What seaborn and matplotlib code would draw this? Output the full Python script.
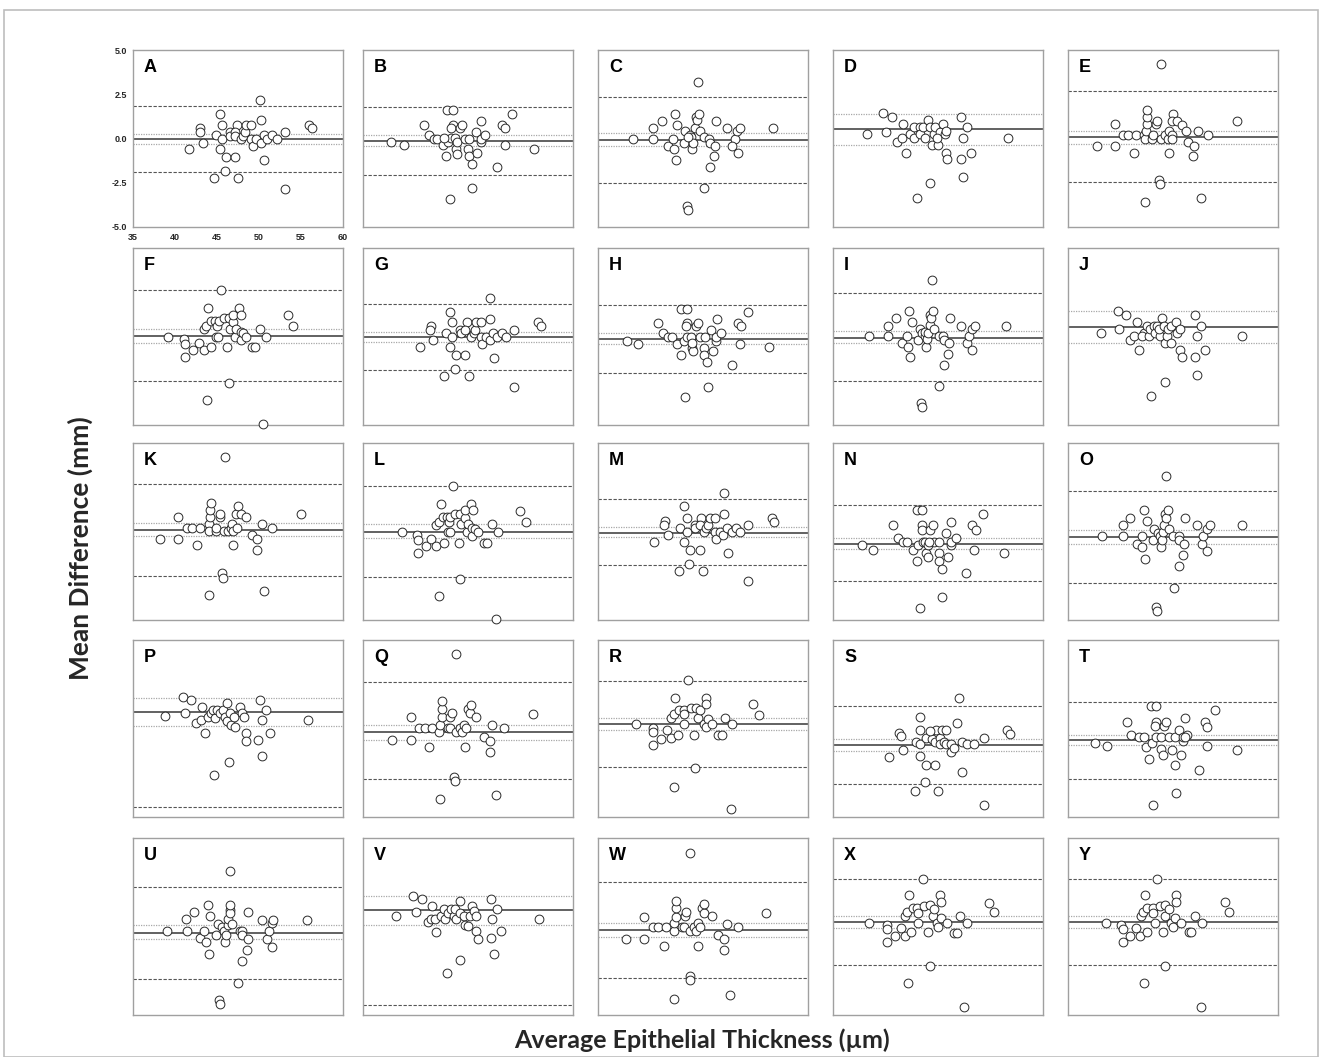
import matplotlib
matplotlib.use("Agg")
import matplotlib.pyplot as plt
from matplotlib.patches import Rectangle
import seaborn as sns
import pandas as pd

# Bland-Altman panels A..Y (x = average, y = difference)
a_pts = [(41.7,-0.61),(43.0,0.61),(43.0,0.38),(43.3,-0.23),(44.9,0.18),(45.3,1.41),(45.3,-0.61),(45.6,0.79),(45.6,-0.01),(46.1,-1.02),(45.9,-1.82),(44.7,-2.25),(46.6,0.38),(46.5,0.14),(47.1,-1.02),(47.4,0.79),(47.2,0.38),(47.1,0.14),(47.5,-2.25),(47.8,-0.01),(48.1,0.14),(48.3,0.38),(48.4,0.79),(49.0,0.79),(49.1,-0.01),(49.3,-0.42),(49.6,-0.01),(50.1,2.20),(50.2,1.02),(50.2,-0.23),(50.6,0.18),(50.6,-1.21),(51.0,-0.01),(51.6,0.18),(52.1,-0.01),(53.1,0.38),(53.1,-2.85),(56.0,0.79),(56.3,0.57)]
b_pts = [(38.3,-0.22),(39.9,-0.39),(42.3,0.77),(42.8,0.18),(43.5,0.0),(43.8,0.0),(44.5,-0.39),(45.0,1.61),(45.7,1.61),(44.9,-1.0),(45.1,-0.22),(45.5,0.02),(45.7,0.77),(45.5,0.57),(45.9,0.02),(46.1,-0.61),(46.2,-0.85),(46.2,-0.22),(46.6,0.57),(46.8,0.77),(47.1,0.0),(47.6,0.0),(47.5,-0.61),(47.6,-1.0),(48.0,-1.44),(48.0,-2.82),(45.3,-3.43),(48.5,0.39),(48.6,-0.81),(49.0,-0.22),(49.1,0.98),(49.0,0.0),(49.5,0.18),(50.9,-1.62),(51.6,0.77),(51.9,0.57),(51.9,-0.39),(52.7,1.38),(55.3,-0.61),(44.6,0.02)]
c_pts = [(46.9,3.19),(39.2,-0.01),(41.6,-0.01),(41.6,0.58),(42.6,0.99),(44.2,1.39),(44.4,0.79),(43.3,-0.43),(44.0,-0.62),(44.3,-1.21),(43.9,-0.01),(45.2,-0.23),(45.3,0.40),(45.9,0.21),(46.1,0.06),(46.2,-0.60),(46.3,-0.23),(46.5,0.58),(46.7,1.24),(46.8,1.02),(47.0,1.39),(47.1,0.40),(47.6,0.06),(48.2,-0.01),(48.3,-0.23),(48.9,-0.42),(49.0,0.99),(48.8,-1.01),(48.3,-1.63),(47.6,-2.81),(45.6,-3.80),(45.7,-4.03),(50.4,0.58),(51.3,-0.01),(51.0,-0.42),(51.6,0.40),(51.9,0.58),(51.7,-0.82),(55.8,0.58),(45.7,0.06)]
d_pts = [(39.0,0.23),(41.0,1.42),(42.0,1.20),(41.3,0.39),(43.3,0.80),(42.6,-0.21),(43.2,0.03),(43.7,-0.80),(44.2,0.23),(44.6,0.63),(44.6,0.03),(45.3,0.63),(45.4,0.23),(45.7,0.63),(46.0,0.03),(46.3,1.04),(46.5,0.63),(46.8,-0.37),(47.0,0.23),(47.2,0.63),(47.5,-0.38),(47.7,0.39),(48.1,0.82),(48.3,0.23),(48.5,0.45),(48.4,-0.80),(48.6,-1.17),(46.5,-2.54),(45.0,-3.35),(50.2,1.20),(50.5,0.03),(50.9,0.63),(50.2,-1.17),(51.4,-0.80),(50.5,-2.17),(55.8,0.03),(47.4,0.05)]
e_pts = [(46.1,4.21),(38.4,-0.42),(40.6,-0.42),(40.6,0.80),(41.5,0.19),(42.1,0.19),(42.8,-0.80),(43.1,0.19),(44.1,0.19),(44.2,-0.01),(44.3,0.40),(44.4,0.80),(44.4,1.21),(44.4,1.61),(45.0,-0.01),(45.1,0.19),(45.5,0.80),(45.6,1.00),(46.1,-0.01),(46.6,0.19),(46.9,-0.01),(47.0,0.40),(47.0,-0.80),(47.4,0.19),(47.4,-0.01),(47.5,1.39),(47.4,1.00),(48.0,1.00),(48.6,0.78),(49.0,0.40),(49.3,-0.21),(50.0,-0.42),(49.9,-0.99),(50.5,0.40),(51.7,0.19),(55.1,1.00),(45.8,-2.37),(45.9,-2.59),(44.2,-3.57),(50.8,-3.38)]
f_pts = [(45.5,2.60),(39.2,0.0),(41.1,-0.15),(41.2,-0.43),(41.2,-1.17),(42.2,-0.77),(42.8,-0.38),(43.4,-0.77),(43.4,0.42),(43.7,0.60),(43.9,1.60),(44.3,0.85),(44.3,-0.59),(44.8,0.85),(45.0,0.60),(44.9,0.0),(45.2,0.85),(45.1,0.0),(45.8,1.02),(46.2,-0.59),(46.4,1.02),(46.5,0.42),(46.9,0.81),(46.9,1.23),(47.2,0.0),(47.3,0.42),(47.6,1.60),(47.9,1.23),(47.8,0.26),(47.8,-0.19),(48.1,0.19),(48.5,0.0),(49.2,-0.59),(49.5,-0.59),(50.1,0.42),(50.8,0.0),(53.4,1.21),(54.1,0.60),(46.4,-2.60),(43.8,-3.60),(50.5,-4.96)]
g_pts = [(50.1,2.19),(41.8,-0.61),(43.1,0.61),(43.0,0.39),(43.3,-0.22),(45.3,1.40),(45.6,0.80),(44.9,0.20),(45.3,-0.61),(45.6,-0.03),(46.1,-1.04),(45.9,-1.81),(44.7,-2.24),(46.6,0.39),(46.7,0.20),(47.1,-1.04),(47.4,0.80),(47.2,0.39),(47.6,-2.24),(47.9,-0.03),(48.2,0.20),(48.3,0.39),(48.4,0.80),(49.1,0.80),(49.1,-0.03),(49.2,-0.42),(49.6,-0.03),(50.1,0.99),(50.1,-0.22),(50.5,0.20),(50.6,-1.23),(51.0,-0.03),(51.5,0.20),(52.0,-0.03),(53.0,0.39),(53.0,-2.84),(55.8,0.80),(56.2,0.57)]
h_pts = [(38.4,-0.23),(39.8,-0.43),(42.2,0.79),(42.7,0.19),(43.3,0.0),(43.8,0.0),(44.4,-0.43),(44.9,1.58),(45.6,1.58),(44.9,-1.04),(45.2,-0.23),(45.6,0.0),(45.6,0.79),(45.5,0.60),(46.1,0.0),(46.2,-0.64),(46.3,-0.83),(46.2,-0.38),(46.7,0.60),(46.9,0.79),(47.1,0.0),(47.7,0.0),(47.6,-0.64),(47.6,-1.04),(48.0,-1.43),(48.1,-2.83),(45.3,-3.43),(48.5,0.38),(48.7,-0.83),(49.0,-0.23),(49.2,0.98),(49.1,0.0),(49.6,0.19),(50.9,-1.62),(51.7,0.79),(52.0,0.57),(51.9,-0.43),(52.8,1.40),(55.3,-0.60)]
i_pts = [(46.8,3.22),(39.3,0.01),(41.5,0.59),(41.6,0.01),(42.5,1.02),(43.2,-0.38),(43.8,0.01),(43.9,-0.57),(44.1,1.42),(44.2,-1.17),(44.4,0.82),(45.1,-0.18),(45.3,0.44),(45.6,0.22),(45.9,0.01),(46.0,0.27),(46.1,-0.57),(46.2,-0.16),(46.3,0.22),(46.5,0.63),(46.6,1.22),(46.7,1.02),(46.9,1.42),(47.0,0.44),(47.6,0.01),(47.6,-2.78),(45.5,-3.78),(45.6,-3.99),(48.1,0.01),(48.2,-0.18),(48.2,-1.59),(48.7,-0.99),(48.8,-0.38),(48.9,1.02),(50.2,0.61),(51.0,-0.38),(51.2,0.01),(51.6,-0.76),(51.6,0.44),(51.9,0.61),(55.6,0.61)]
j_pts = [(38.9,0.22),(40.9,1.42),(41.9,1.22),(41.1,0.41),(43.2,0.82),(42.4,-0.18),(42.9,0.01),(43.5,-0.78),(44.0,0.22),(43.8,0.01),(44.4,0.61),(44.6,0.01),(44.8,0.41),(45.2,0.61),(45.4,0.22),(45.6,0.61),(46.0,0.01),(45.8,0.41),(46.2,1.02),(46.4,0.61),(46.6,-0.38),(46.8,0.01),(46.9,0.41),(47.3,-0.38),(47.3,0.61),(47.9,0.82),(48.0,0.22),(48.3,-0.78),(48.3,0.44),(48.6,-1.17),(46.5,-2.59),(44.9,-3.36),(50.1,1.22),(50.8,0.61),(50.3,0.01),(50.1,-1.17),(51.3,-0.78),(50.4,-2.18),(55.7,0.01)]
k_pts = [(46.0,4.21),(38.2,-0.40),(40.4,-0.40),(40.4,0.80),(41.4,0.21),(42.0,0.21),(42.6,-0.78),(43.0,0.21),(44.0,0.41),(44.0,0.02),(44.2,0.80),(44.2,1.22),(44.3,1.63),(44.9,0.02),(44.9,0.21),(45.3,0.80),(45.4,1.01),(45.8,0.02),(46.3,0.02),(46.7,0.21),(46.8,0.41),(46.9,-0.78),(46.9,0.02),(47.4,0.21),(47.3,1.01),(47.5,1.43),(47.9,1.01),(48.5,0.80),(49.2,-0.19),(49.8,-0.40),(49.8,-1.02),(50.4,0.41),(51.6,0.21),(55.0,1.01),(45.6,-2.37),(45.7,-2.60),(44.0,-3.59),(50.6,-3.38)]
l_pts = [(45.7,2.58),(39.6,-0.02),(41.4,-0.21),(41.5,-0.47),(41.5,-1.23),(42.5,-0.83),(43.1,-0.44),(43.7,-0.83),(43.7,0.36),(44.0,0.55),(44.3,1.57),(44.5,0.80),(44.6,-0.64),(45.0,0.80),(45.2,0.55),(45.1,-0.02),(45.4,0.80),(45.3,-0.02),(46.0,0.97),(46.4,-0.64),(46.6,0.97),(46.7,0.40),(47.1,0.79),(47.1,1.19),(47.4,-0.02),(47.5,0.40),(47.9,1.57),(48.1,1.19),(48.0,0.21),(48.0,-0.25),(48.3,0.13),(48.7,-0.02),(49.4,-0.64),(49.8,-0.64),(50.3,0.40),(51.1,-0.02),(53.7,1.17),(54.4,0.55),(46.6,-2.66),(44.1,-3.66),(50.8,-4.95)]
m_pts = [(50.0,2.19),(41.7,-0.62),(43.0,0.60),(42.9,0.39),(43.3,-0.22),(45.2,1.44),(45.6,0.79),(44.8,0.21),(45.2,-0.62),(45.6,-0.02),(46.0,-1.03),(45.8,-1.82),(44.7,-2.25),(46.5,0.39),(46.6,0.21),(47.1,-1.03),(47.3,0.79),(47.1,0.39),(47.5,-2.25),(47.6,-0.02),(47.9,0.21),(48.1,0.39),(48.3,0.79),(48.9,0.79),(48.9,-0.02),(49.1,-0.41),(49.5,-0.02),(50.0,1.00),(49.9,-0.22),(50.4,0.21),(50.5,-1.22),(50.9,-0.02),(51.4,0.21),(51.9,-0.02),(52.9,0.39),(52.9,-2.81),(55.7,0.79),(56.0,0.55)]
n_pts = [(38.4,-0.79),(39.8,-1.02),(42.2,0.34),(42.7,-0.34),(43.3,-0.57),(43.8,-0.57),(44.5,-1.02),(45.0,1.20),(45.6,1.20),(45.0,-1.68),(45.1,-0.79),(45.7,-0.57),(45.6,0.34),(45.6,0.11),(46.0,-0.57),(46.1,-1.21),(46.3,-1.46),(46.3,-0.79),(46.6,0.11),(46.9,0.34),(47.0,-0.57),(47.6,-0.57),(47.6,-1.21),(47.6,-1.68),(48.0,-2.10),(48.0,-3.69),(45.4,-4.33),(48.5,-0.11),(48.7,-1.46),(49.0,-0.79),(49.1,-0.57),(49.1,0.54),(49.6,-0.34),(50.8,-2.33),(51.6,0.34),(52.0,0.11),(51.8,-1.02),(52.8,0.99),(55.3,-1.21),(46.4,-0.57)]
o_pts = [(46.7,3.12),(39.1,-0.26),(41.5,0.36),(41.6,-0.26),(42.4,0.79),(43.2,-0.68),(43.8,-0.90),(43.8,-0.26),(44.1,1.22),(44.2,-1.54),(44.4,0.58),(45.1,-0.47),(45.2,0.14),(45.7,-0.08),(46.0,-0.26),(46.1,-0.90),(46.2,-0.47),(46.3,-0.04),(46.4,0.36),(46.5,1.00),(46.7,0.79),(46.9,1.22),(47.0,0.14),(47.5,-0.26),(47.6,-3.22),(45.5,-4.25),(45.6,-4.49),(48.2,-0.26),(48.2,-0.47),(48.2,-1.96),(48.7,-1.32),(48.8,-0.68),(48.9,0.79),(50.3,0.36),(51.0,-0.68),(51.1,-0.26),(51.5,-1.11),(51.5,0.14),(51.9,0.36),(55.7,0.36)]
p_pts = [(40.9,1.77),(41.9,1.62),(38.8,0.68),(41.2,0.87),(42.5,0.32),(43.2,1.21),(43.1,0.49),(43.6,-0.25),(43.9,0.66),(44.3,0.85),(44.5,1.06),(44.8,0.57),(45.0,1.06),(45.3,0.85),(45.7,1.06),(45.9,0.66),(46.2,1.42),(46.2,0.43),(46.6,0.85),(46.7,0.19),(47.0,0.66),(47.2,0.07),(47.7,1.23),(48.0,0.85),(48.2,0.66),(48.4,-0.25),(48.5,-0.70),(49.9,-0.64),(50.1,1.60),(50.8,1.04),(50.3,0.49),(51.3,-0.25),(50.3,-1.53),(46.4,-1.91),(44.7,-2.62),(55.8,0.49)]
q_pts = [(46.1,4.21),(38.4,-0.65),(40.7,-0.65),(40.7,0.65),(41.7,0.01),(42.4,0.01),(42.9,-1.06),(43.2,0.01),(44.1,-0.18),(44.2,0.20),(44.4,0.65),(44.4,1.10),(44.4,1.55),(45.1,0.01),(45.3,0.01),(45.4,0.65),(45.6,0.87),(46.1,-0.18),(46.5,0.01),(46.8,-0.18),(47.0,0.20),(47.2,-1.04),(47.3,0.01),(47.5,1.10),(47.7,0.87),(47.9,1.32),(48.4,0.65),(49.4,-0.46),(50.1,-0.68),(50.1,-1.32),(50.4,0.20),(51.8,0.01),(55.2,0.84),(45.8,-2.73),(46.0,-2.95),(44.2,-4.00),(50.8,-3.78)]
r_pts = [(45.7,2.74),(39.5,0.23),(41.5,0.04),(41.6,-0.19),(41.5,-0.91),(42.5,-0.57),(43.2,-0.10),(43.7,-0.53),(43.7,0.62),(44.0,0.83),(44.2,1.72),(44.7,1.02),(44.5,-0.38),(45.2,1.02),(45.2,0.83),(45.2,0.23),(46.1,1.15),(46.4,-0.38),(46.7,1.15),(46.9,0.62),(47.2,1.02),(47.8,1.72),(47.6,0.23),(47.9,1.40),(48.1,0.55),(47.8,0.09),(48.6,0.23),(49.3,-0.34),(49.8,-0.34),(50.1,0.62),(51.0,0.23),(53.5,1.38),(54.2,0.77),(46.6,-2.23),(44.0,-3.30),(50.8,-4.57)]
s_pts = [(50.0,1.74),(41.7,-1.60),(42.9,-0.23),(43.1,-0.43),(43.3,-1.23),(45.3,0.66),(45.4,-0.09),(44.9,-0.74),(45.3,-1.57),(45.4,-0.85),(46.1,-2.08),(47.2,-2.08),(45.9,-3.02),(44.8,-3.53),(47.5,-3.55),(46.1,-0.55),(46.8,-0.60),(47.3,-0.09),(47.2,-0.76),(47.7,-0.55),(47.7,-0.85),(48.0,-0.06),(48.2,-0.76),(48.5,-0.06),(48.5,-0.85),(49.0,-0.85),(49.0,-1.30),(49.4,-1.08),(49.8,0.32),(50.4,-0.74),(50.4,-2.47),(50.9,-0.85),(51.8,-0.85),(53.0,-0.55),(53.0,-4.32),(55.7,-0.06),(56.1,-0.32),(46.6,-0.13)]
t_pts = [(38.2,-0.81),(39.6,-0.98),(42.0,0.34),(42.5,-0.34),(43.4,-0.49),(44.1,-0.49),(44.3,-1.04),(44.9,1.25),(45.5,1.25),(44.6,-1.70),(45.0,-0.81),(45.5,-0.49),(45.5,0.38),(45.3,0.15),(46.1,-0.49),(46.1,-1.13),(46.3,-1.47),(46.4,0.15),(46.7,0.34),(47.0,-0.49),(47.4,-1.21),(47.7,-0.49),(47.7,-2.08),(47.9,-3.67),(45.1,-4.34),(48.2,-0.11),(48.4,-1.47),(48.7,-0.68),(48.7,-0.49),(48.9,0.57),(49.2,-0.34),(50.6,-2.34),(51.3,0.38),(51.6,0.08),(51.6,-0.98),(52.5,1.02),(55.1,-1.21),(48.9,-0.49)]
u_pts = [(46.6,3.12),(39.0,-0.26),(41.3,0.41),(41.4,-0.26),(42.3,0.83),(43.0,-0.64),(43.7,-0.86),(43.5,-0.26),(43.9,1.20),(44.0,-1.54),(44.2,0.60),(44.9,-0.49),(45.1,0.15),(45.6,-0.04),(45.8,-0.26),(45.9,-0.86),(46.1,-0.49),(46.3,0.07),(46.3,0.41),(46.5,0.94),(46.5,0.79),(46.6,1.20),(46.8,0.15),(47.7,-0.26),(47.5,-3.19),(45.2,-4.17),(45.4,-4.40),(48.0,-0.26),(48.0,-0.49),(48.0,-1.95),(48.6,-1.31),(48.7,-0.68),(48.7,0.83),(50.3,0.38),(51.0,-0.68),(51.2,-0.26),(51.5,-1.13),(51.5,0.19),(51.7,0.38),(55.7,0.38)]
v_pts = [(38.9,0.60),(41.0,1.73),(42.0,1.54),(41.3,0.83),(43.2,1.13),(42.7,0.26),(43.1,0.41),(43.7,-0.30),(43.6,0.45),(44.3,0.60),(44.6,1.01),(44.8,0.41),(45.1,0.79),(45.5,1.01),(45.8,0.60),(46.0,1.01),(46.1,0.45),(46.5,1.43),(46.6,0.79),(47.0,0.60),(47.2,0.07),(47.5,0.04),(47.7,0.60),(48.0,1.16),(48.2,0.86),(48.4,0.60),(48.5,-0.26),(48.7,-0.68),(50.2,1.54),(50.9,1.01),(50.4,0.41),(50.2,-0.64),(51.4,-0.26),(50.6,-1.54),(46.6,-1.92),(45.0,-2.65),(55.9,0.45)]
w_pts = [(46.0,4.14),(38.3,-0.73),(40.5,-0.73),(40.5,0.56),(41.6,-0.05),(42.2,-0.05),(42.8,-1.11),(43.1,-0.05),(44.0,-0.24),(44.1,0.18),(44.3,0.56),(44.3,1.02),(44.3,1.44),(45.0,-0.05),(45.2,-0.05),(45.3,0.60),(45.5,0.81),(46.0,-0.24),(46.4,-0.05),(46.7,-0.24),(46.9,0.18),(46.9,-1.11),(47.2,-0.05),(47.4,1.02),(47.6,0.79),(47.6,1.25),(48.6,0.60),(49.3,-0.47),(50.0,-0.73),(50.0,-1.34),(50.3,0.14),(51.7,-0.05),(55.0,0.75),(45.9,-2.79),(45.9,-3.02),(44.1,-4.09),(50.7,-3.86)]
x_pts = [(45.7,2.71),(39.3,0.22),(41.4,0.07),(41.4,-0.15),(41.4,-0.90),(42.4,-0.53),(43.1,-0.11),(43.6,-0.53),(43.6,0.60),(43.8,0.83),(44.1,1.77),(44.5,1.02),(44.3,-0.30),(45.0,1.02),(45.1,0.75),(45.1,0.22),(45.8,1.17),(46.3,-0.30),(46.5,1.20),(46.9,0.60),(47.0,0.98),(47.7,1.77),(47.4,0.22),(47.9,1.39),(47.9,0.49),(47.5,0.00),(48.6,0.22),(49.4,-0.38),(49.8,-0.34),(50.1,0.60),(51.0,0.22),(53.6,1.35),(54.2,0.83),(46.5,-2.22),(43.9,-3.20),(50.6,-4.55)]
y_pts = [(45.6,2.71),(39.5,0.22),(41.3,0.07),(41.5,-0.15),(41.5,-0.90),(42.4,-0.53),(43.1,-0.11),(43.6,-0.53),(43.7,0.60),(43.9,0.83),(44.2,1.77),(44.4,1.02),(44.4,-0.30),(45.1,1.02),(45.1,0.75),(45.3,0.22),(46.0,1.17),(46.3,-0.30),(46.5,1.20),(46.6,0.60),(47.0,0.98),(47.8,1.77),(47.3,0.22),(47.8,1.39),(47.7,0.49),(47.5,0.00),(48.5,0.22),(49.4,-0.30),(49.7,-0.30),(50.1,0.60),(50.9,0.22),(53.7,1.39),(54.2,0.83),(46.5,-2.22),(44.1,-3.20),(50.8,-4.55)]

letters = list("ABCDEFGHIJKLMNOPQRSTUVWXY")
panel_pts = [a_pts, b_pts, c_pts, d_pts, e_pts, f_pts, g_pts, h_pts, i_pts, j_pts,
             k_pts, l_pts, m_pts, n_pts, o_pts, p_pts, q_pts, r_pts, s_pts, t_pts,
             u_pts, v_pts, w_pts, x_pts, y_pts]

# mean bias, 95% CI of the bias (dotted), limits of agreement (dashed)
mean_diff = [-0.03, -0.13, -0.08, 0.52, 0.06, 0.04, -0.03, -0.13, -0.07, 0.52,
             0.11, -0.02, -0.06, -0.68, -0.32, 0.94, -0.22, 0.23, -0.91, -0.66,
             -0.34, 0.92, -0.18, 0.26, 0.26]
ci_upper = [0.27, 0.18, 0.29, 1.40, 0.45, 0.42, 0.23, 0.17, 0.33, 1.42,
            0.50, 0.40, 0.24, -0.38, 0.06, 1.75, 0.18, 0.62, -0.59, -0.36,
            0.08, 1.71, 0.22, 0.60, 0.60]
ci_lower = [-0.29, -0.42, -0.45, -0.38, -0.31, -0.34, -0.31, -0.43, -0.39, -0.38,
            -0.26, -0.38, -0.30, -1.00, -0.71, 0.13, -0.63, -0.09, -1.25, -0.96,
            -0.72, 0.07, -0.60, -0.08, -0.08]
loa_upper = [1.86, 1.79, 2.37, None, 2.68, 2.60, 1.85, 1.79, 2.43, None,
             2.71, 2.55, 1.83, 1.47, 2.27, None, 2.60, 2.70, 1.28, 1.51,
             2.24, None, 2.54, 2.71, 2.71]
loa_lower = [-1.92, -2.05, -2.53, None, -2.48, -2.53, -1.90, -2.08, -2.52, None,
             -2.52, -2.58, -1.89, -2.82, -2.92, -4.43, -2.86, -2.17, -3.13, -2.83,
             -2.95, -4.44, -2.91, -2.18, -2.18]

x_ticks = [35, 40, 45, 50, 55, 60]
y_ticks = [-5.0, -2.5, 0.0, 2.5, 5.0]

sns.set_style("white")
plt.rcParams['font.family'] = ['Liberation Sans', 'DejaVu Sans']

W, H = 1322, 1057
fig = plt.figure(figsize=(W / 100, H / 100), dpi=100)

col_left = [133, 363, 598, 833, 1068]
row_top = [50, 248, 443, 640, 838]
pw, ph = 210, 177

for i, letter in enumerate(letters):
    r, c = divmod(i, 5)
    ax = fig.add_axes([col_left[c] / W, 1 - (row_top[r] + ph) / H, pw / W, ph / H])
    df = pd.DataFrame(panel_pts[i], columns=["avg", "diff"])

    if loa_upper[i] is not None:
        ax.axhline(loa_upper[i], color="#555555", lw=0.8, ls=(0, (3, 1.5)), zorder=1)
    if loa_lower[i] is not None:
        ax.axhline(loa_lower[i], color="#555555", lw=0.8, ls=(0, (3, 1.5)), zorder=1)
    ax.axhline(ci_upper[i], color="#a8a8a8", lw=0.9, ls=(0, (1, 1)), zorder=1)
    ax.axhline(ci_lower[i], color="#a8a8a8", lw=0.9, ls=(0, (1, 1)), zorder=1)
    ax.axhline(mean_diff[i], color="#555555", lw=1.3, zorder=1)

    sns.scatterplot(data=df, x="avg", y="diff", ax=ax, marker="o", s=40,
                    facecolor="white", edgecolor="#2a2a2a", linewidth=0.7,
                    zorder=3, clip_on=False, legend=False)

    ax.set_xlim(35, 60)
    ax.set_ylim(-5, 5)
    ax.set_xticks(x_ticks)
    ax.set_yticks(y_ticks)
    ax.set_xlabel("")
    ax.set_ylabel("")
    for sp in ax.spines.values():
        sp.set_color("#a0a0a0")
        sp.set_linewidth(1.0)
    ax.tick_params(length=2.5, width=0.6, color="#cccccc", pad=1.5)
    if i == 0:
        ax.set_xticklabels([str(t) for t in x_ticks], fontsize=6.5, fontweight="bold")
        ax.set_yticklabels([f"{t:.1f}" for t in y_ticks], fontsize=6.5, fontweight="bold")
    else:
        ax.set_xticklabels([])
        ax.set_yticklabels([])

    ax.text(11 / pw, 1 - 9 / ph, letter, transform=ax.transAxes, ha="left", va="top",
            fontsize=13, fontweight="bold", color="black")

# thin frame around the whole figure
fig.add_artist(Rectangle((4 / W, 0), (1318 - 4) / W, (H - 10) / H, transform=fig.transFigure,
                         fill=False, ec="#bdbdbd", lw=1.2))

fig.text(702 / W, 1 - 1040 / H, "Average Epithelial Thickness (\u00b5m)", ha="center",
         va="center", fontsize=18, fontweight="bold", family=["Lato", "DejaVu Sans"])
fig.text(80 / W, 1 - 548 / H, "Mean Difference (mm)", ha="center", va="center",
         rotation=90, fontsize=19, fontweight="bold", family=["Lato", "DejaVu Sans"])

fig.savefig("out.png", dpi=100)
